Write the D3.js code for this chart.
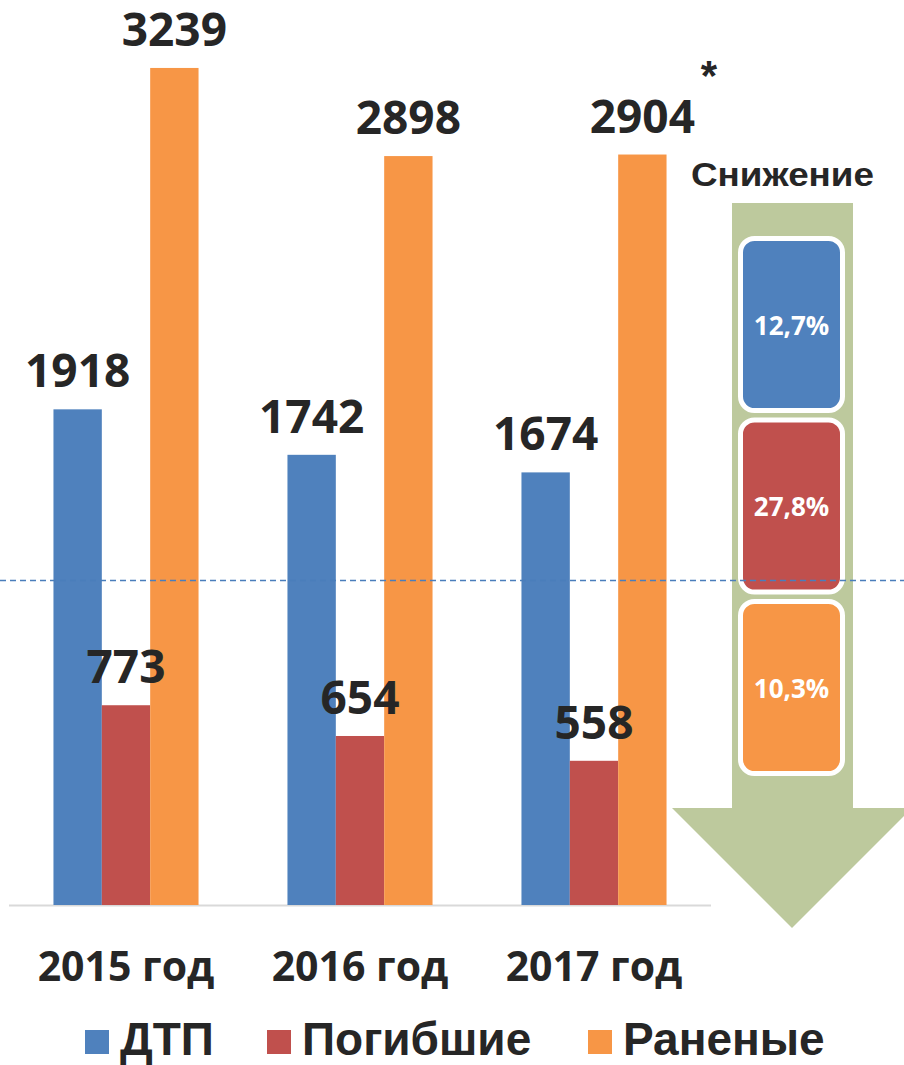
<!DOCTYPE html>
<html>
<head>
<meta charset="utf-8">
<script src="https://cdn.jsdelivr.net/npm/d3@7"></script>
<style>
  body { margin: 0; background: #fff; }
  svg { display: block; }
</style>
</head>
<body>
<svg id="chart" width="904" height="1065"></svg>
<script>
// data
const years = ['2015 год', '2016 год', '2017 год'];
const seriesNames = ['ДТП', 'Погибшие', 'Раненые'];
const dtp = [1918, 1742, 1674];
const killed = [773, 654, 558];
const injured = [3239, 2898, 2904];
const decline = ['12,7%', '27,8%', '10,3%'];
const colors = ['#4f81bd', '#c0504d', '#f79646'];

const values = [dtp, killed, injured];
const rows = years.map((y, i) => ({ year: y, vals: values.map(v => v[i]) }));

const svg = d3.select('#chart');
const textColor = '#262626';

const x0 = d3.scaleBand().domain(years).range([9, 711])
  .paddingInner(0.38).paddingOuter(0.19);
const x1 = d3.scaleBand().domain(d3.range(3)).range([0, x0.bandwidth()]);
const y = d3.scaleLinear().domain([0, 3500]).range([905, 0.5]);

// "Снижение" arrow
const arrow = svg.append('g');
arrow.append('path')
  .attr('d', 'M732,203 L853,203 L853,808 L912,808 L792,928 L672,808 L732,808 Z')
  .attr('fill', '#bdc99d');

arrow.append('text')
  .attr('x', 691).attr('y', 186)
  .attr('font-family', 'Liberation Sans, Arial, sans-serif')
  .attr('font-weight', 'bold').attr('font-size', 33)
  .attr('textLength', 183).attr('lengthAdjust', 'spacingAndGlyphs')
  .attr('fill', textColor)
  .text('Снижение');

const boxTop = 238.5, boxStep = 181.5, boxH = 172;
const boxes = arrow.selectAll('g.box').data(decline).join('g').attr('class', 'box');
boxes.append('rect')
  .attr('x', 740.5).attr('width', 102)
  .attr('y', (d, i) => boxTop + i * boxStep)
  .attr('height', boxH)
  .attr('rx', 14)
  .attr('fill', (d, i) => colors[i])
  .attr('stroke', '#fff').attr('stroke-width', 5);
boxes.append('text')
  .attr('x', 791.5)
  .attr('y', (d, i) => boxTop + i * boxStep + boxH / 2 + 10)
  .attr('text-anchor', 'middle')
  .attr('font-family', 'Open Sans, sans-serif')
  .attr('font-weight', 'bold').attr('font-size', 26)
  .attr('fill', '#fff')
  .text(d => d);

// baseline
svg.append('line')
  .attr('x1', 9).attr('x2', 711)
  .attr('y1', 905.5).attr('y2', 905.5)
  .attr('stroke', '#d9d9d9').attr('stroke-width', 2);

// bars
const groups = svg.selectAll('g.year').data(rows).join('g')
  .attr('class', 'year')
  .attr('transform', d => `translate(${x0(d.year)},0)`);

groups.selectAll('rect')
  .data(d => d.vals)
  .join('rect')
  .attr('x', (d, i) => x1(i))
  .attr('width', x1.bandwidth())
  .attr('y', d => y(d))
  .attr('height', d => y(0) - y(d))
  .attr('fill', (d, i) => colors[i]);

groups.selectAll('text.val')
  .data(d => d.vals)
  .join('text')
  .attr('class', 'val')
  .attr('x', (d, i) => x1(i) + x1.bandwidth() / 2)
  .attr('y', d => y(d) - 22)
  .attr('text-anchor', 'middle')
  .attr('font-family', 'Open Sans, sans-serif')
  .attr('font-weight', 'bold').attr('font-size', 46)
  .attr('fill', textColor)
  .text(d => d);

// asterisk next to 2017 label
svg.append('text')
  .attr('x', 709).attr('y', 90)
  .attr('text-anchor', 'middle')
  .attr('font-family', 'Liberation Sans, Arial, sans-serif')
  .attr('font-weight', 'bold').attr('font-size', 42)
  .attr('fill', textColor)
  .text('*');

// dashed reference line
svg.append('line')
  .attr('x1', 0).attr('x2', 904)
  .attr('y1', 580.5).attr('y2', 580.5)
  .attr('stroke', '#4a7ebb').attr('stroke-width', 1.5)
  .attr('stroke-dasharray', '6,4');

// category labels
svg.selectAll('text.cat').data(years).join('text')
  .attr('class', 'cat')
  .attr('x', d => x0(d) + x0.bandwidth() / 2)
  .attr('y', 981)
  .attr('text-anchor', 'middle')
  .attr('font-family', 'Open Sans, sans-serif')
  .attr('font-weight', 'bold').attr('font-size', 41)
  .attr('fill', textColor)
  .text(d => d);

// legend
const legendX = [85, 267, 588];
const legend = svg.selectAll('g.leg').data(seriesNames).join('g')
  .attr('class', 'leg')
  .attr('transform', (d, i) => `translate(${legendX[i]},0)`);
legend.append('rect')
  .attr('x', 0).attr('y', 1030)
  .attr('width', 24).attr('height', 24)
  .attr('fill', (d, i) => colors[i]);
legend.append('text')
  .attr('x', 35).attr('y', 1055)
  .attr('font-family', 'Liberation Sans, Arial, sans-serif')
  .attr('font-weight', 'bold').attr('font-size', 46)
  .attr('fill', textColor)
  .text(d => d);
</script>
</body>
</html>
